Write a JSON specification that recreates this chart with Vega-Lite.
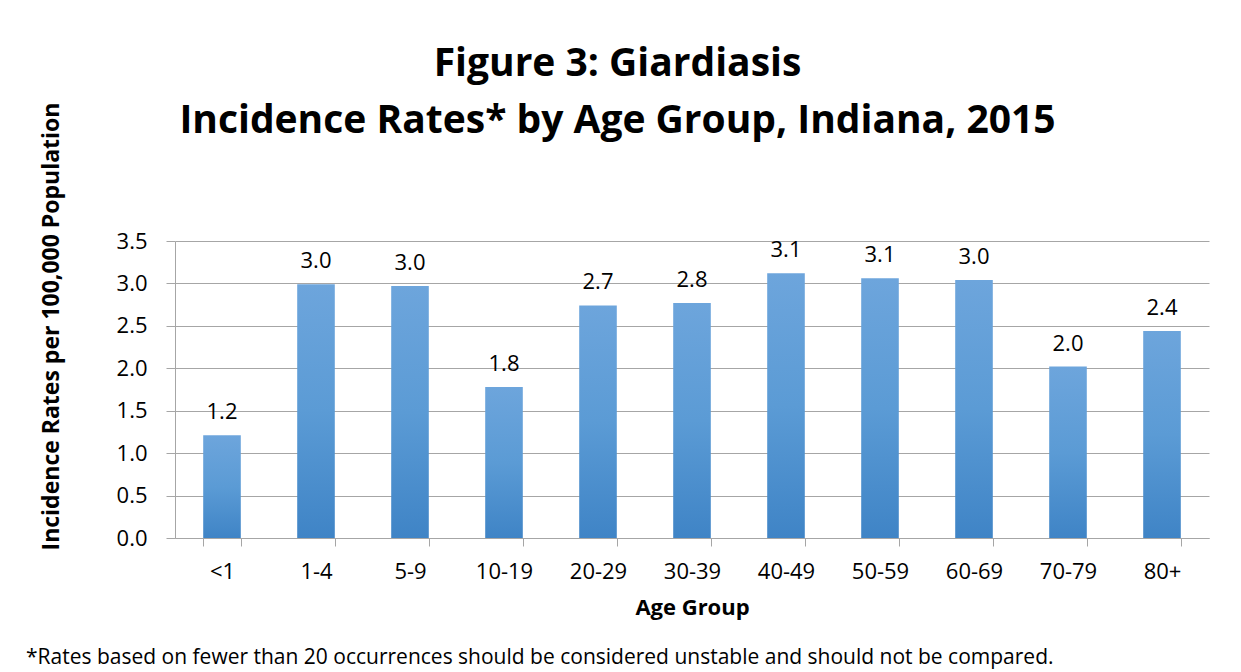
{
  "$schema": "https://vega.github.io/schema/vega-lite/v6.json",
  "background": "white",
  "padding": {"left": 26, "top": 45, "right": 31, "bottom": 5},
  "title": {
    "text": ["Figure 3: Giardiasis", "Incidence Rates* by Age Group, Indiana, 2015"],
    "font": "Open Sans",
    "fontSize": 39,
    "fontWeight": "bold",
    "color": "black",
    "lineHeight": 57,
    "anchor": "middle",
    "frame": "bounds",
    "offset": -39,
    "dx": 0
  },
  "config": {
    "view": {"stroke": null},
    "font": "Open Sans"
  },
  "vconcat": [
    {
      "width": 1034,
      "height": 297,
      "title": {
        "text": "*Rates based on fewer than 20 occurrences should be considered unstable and should not be compared.",
        "orient": "bottom",
        "anchor": "start",
        "frame": "group",
        "font": "Open Sans",
        "fontSize": 21,
        "fontWeight": "normal",
        "color": "black",
        "offset": 29,
        "dx": -149
      },
      "data": {
        "values": [
          {"age": "<1", "rate": 1.21},
          {"age": "1-4", "rate": 2.99},
          {"age": "5-9", "rate": 2.97},
          {"age": "10-19", "rate": 1.78},
          {"age": "20-29", "rate": 2.74},
          {"age": "30-39", "rate": 2.77},
          {"age": "40-49", "rate": 3.12},
          {"age": "50-59", "rate": 3.06},
          {"age": "60-69", "rate": 3.04},
          {"age": "70-79", "rate": 2.02},
          {"age": "80+", "rate": 2.44}
        ]
      },
      "encoding": {
        "x": {
          "field": "age",
          "type": "nominal",
          "sort": null,
          "scale": {"paddingInner": 0.6, "paddingOuter": 0.3},
          "axis": {
            "title": "Age Group",
            "titleFont": "Open Sans",
            "titleFontSize": 22,
            "titleFontWeight": "bold",
            "titleColor": "black",
            "titlePadding": 15,
            "labelAngle": 0,
            "labelFont": "Open Sans",
            "labelFontSize": 22,
            "labelColor": "black",
            "labelPadding": 15,
            "tickBand": "extent",
            "tickSize": 8,
            "tickColor": "#a6a6a6",
            "domainColor": "#a6a6a6",
            "grid": false
          }
        },
        "y": {
          "field": "rate",
          "type": "quantitative",
          "scale": {"domain": [0, 3.5], "nice": false},
          "axis": {
            "title": "Incidence Rates per 100,000 Population",
            "titleFont": "Open Sans",
            "titleFontSize": 23,
            "titleFontWeight": "bold",
            "titleColor": "black",
            "titlePadding": 53,
            "titleY": 85,
            "values": [0, 0.5, 1, 1.5, 2, 2.5, 3, 3.5],
            "format": ".1f",
            "labelFont": "Open Sans",
            "labelFontSize": 22,
            "labelColor": "black",
            "labelPadding": 19,
            "tickSize": 9,
            "tickColor": "#a6a6a6",
            "domainColor": "#a6a6a6",
            "gridColor": "#a6a6a6",
            "grid": true
          }
        }
      },
      "layer": [
        {
          "mark": {
            "type": "bar",
            "color": {
              "gradient": "linear",
              "x1": 0, "y1": 0, "x2": 0, "y2": 1,
              "stops": [
                {"offset": 0, "color": "#6DA5DC"},
                {"offset": 0.5, "color": "#5B9BD5"},
                {"offset": 1, "color": "#3F84C6"}
              ]
            }
          }
        },
        {
          "mark": {"type": "text", "baseline": "alphabetic", "dy": -16, "font": "Open Sans", "fontSize": 22, "color": "black"},
          "encoding": {"text": {"field": "rate", "type": "quantitative", "format": ".1f"}}
        }
      ]
    }
  ]
}
